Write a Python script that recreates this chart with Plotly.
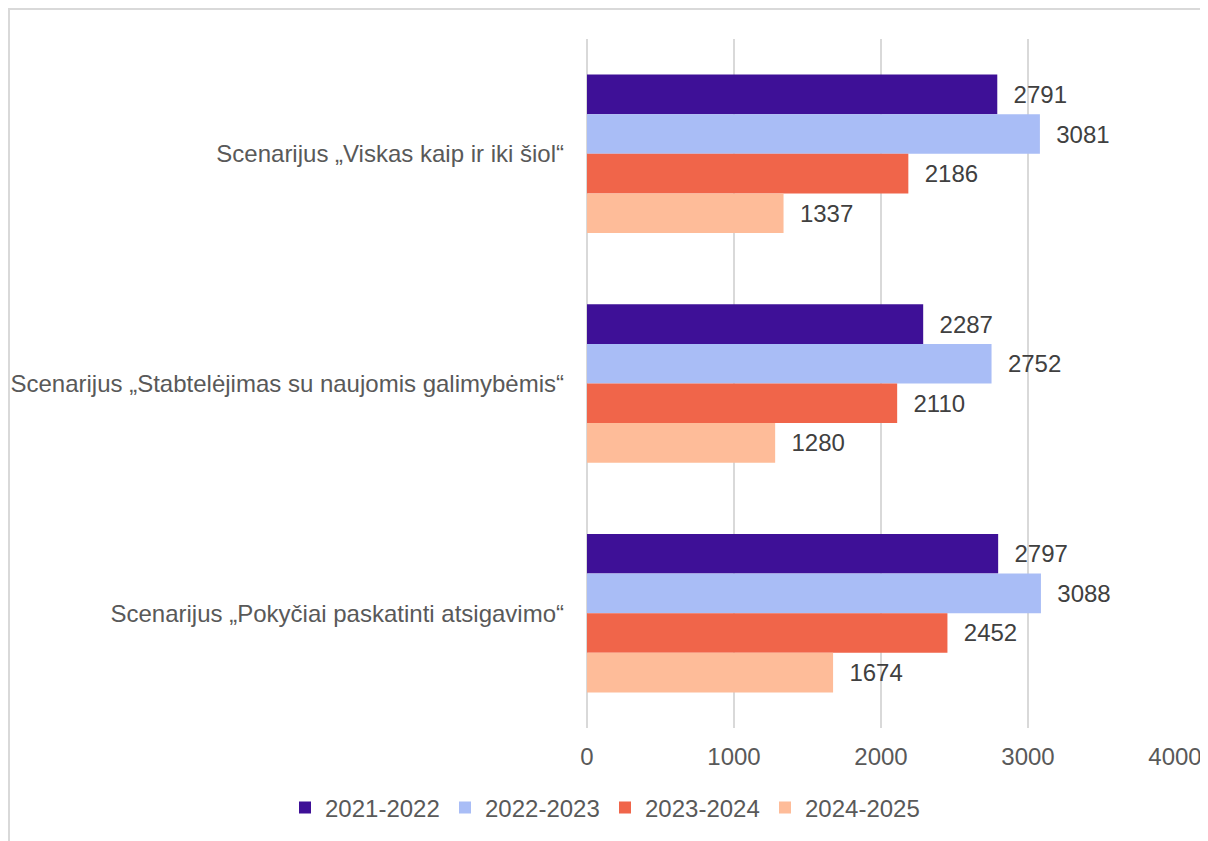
import plotly.graph_objects as go

categories = [
    "Scenarijus „Viskas kaip ir iki šiol“",
    "Scenarijus „Stabtelėjimas su naujomis galimybėmis“",
    "Scenarijus „Pokyčiai paskatinti atsigavimo“",
]
series_names = ["2021-2022", "2022-2023", "2023-2024", "2024-2025"]
v_2021 = [2791, 2287, 2797]
v_2022 = [3081, 2752, 3088]
v_2023 = [2186, 2110, 2452]
v_2024 = [1337, 1280, 1674]
colors = ["#3E1097", "#A9BDF6", "#F0654A", "#FEBC99"]

fig = go.Figure()
for name, vals, col in zip(series_names, [v_2021, v_2022, v_2023, v_2024], colors):
    fig.add_trace(go.Bar(
        y=categories, x=vals, name=name, orientation="h",
        marker=dict(color=col, line=dict(width=0)),
        text=[f"  {v}" for v in vals], textposition="outside",
        textfont=dict(size=24, color="#404040"), cliponaxis=False,
    ))

fig.update_layout(
    width=1200, height=833,
    barmode="group", bargap=0.31, bargroupgap=0,
    plot_bgcolor="white", paper_bgcolor="white",
    font=dict(family="Liberation Sans, Arial, sans-serif", size=24, color="#595959"),
    margin=dict(l=579, r=33, t=31, b=112),
    showlegend=True,
    legend=dict(orientation="h", x=-0.5136, xanchor="left", y=-0.1145, yanchor="middle",
                font=dict(size=24, color="#595959"), itemwidth=30,
                entrywidth=115, entrywidthmode="pixels"),
    xaxis=dict(range=[0, 4000], dtick=1000, showgrid=True, gridcolor="#d9d9d9",
               gridwidth=1.5, zeroline=True, zerolinecolor="#d9d9d9", zerolinewidth=1.5,
               showline=False, ticks="", ticklabelstandoff=12, automargin=False),
    yaxis=dict(autorange="reversed", showgrid=False, showline=False, ticks="",
               ticklabelstandoff=22, automargin=False),
    shapes=[dict(type="rect", xref="paper", yref="paper",
                 x0=-0.983, x1=1.2, y0=-0.3, y1=1.0435,
                 line=dict(color="#d9d9d9", width=2), layer="below")],
)

fig.write_html("out.html")
